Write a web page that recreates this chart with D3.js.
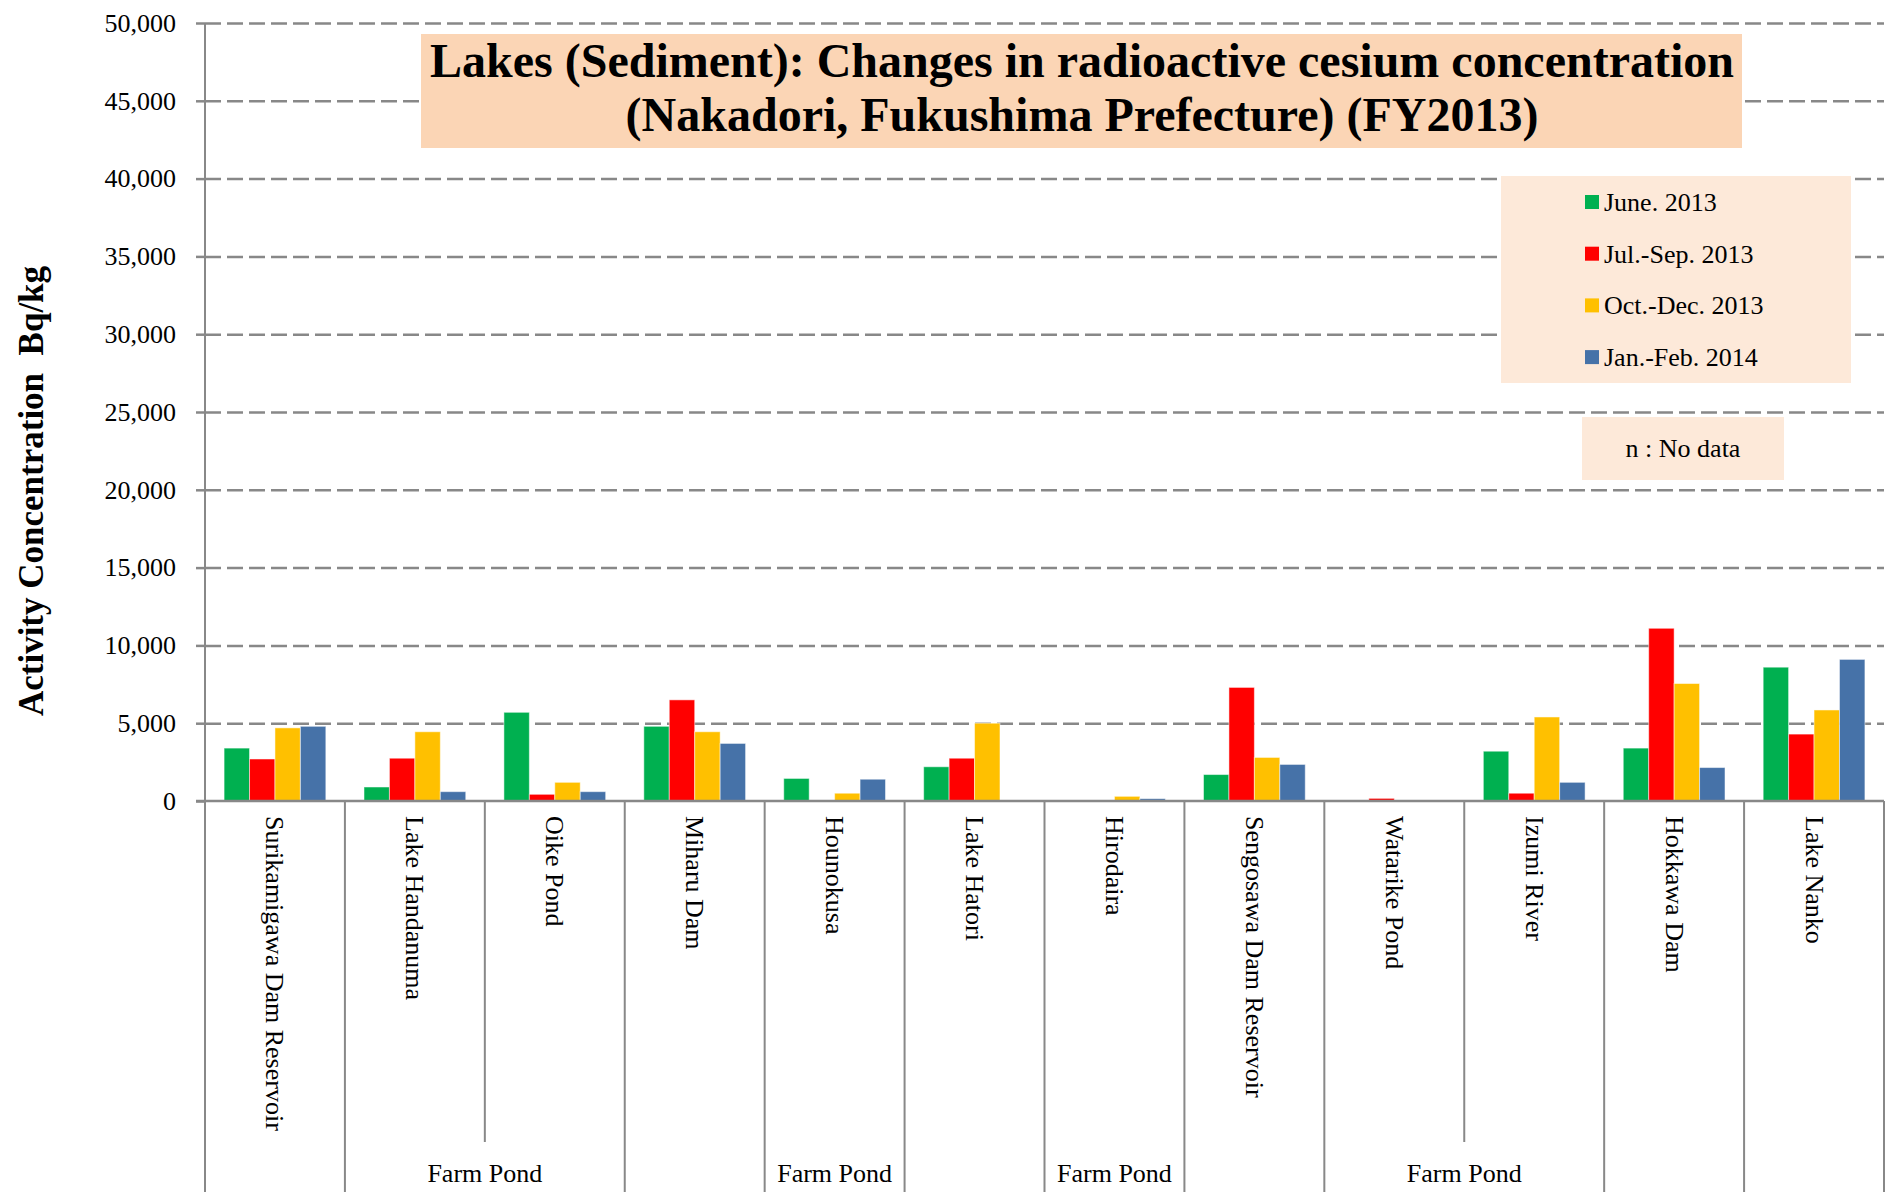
<!DOCTYPE html>
<html>
<head>
<meta charset="utf-8">
<script src="https://cdn.jsdelivr.net/npm/d3@7"></script>
<style>
  body { margin: 0; background: #fff; }
  svg { display: block; font-family: "Liberation Serif", "Times New Roman", serif; }
</style>
</head>
<body>
<div id="chart"></div>
<script>
// data (Bq/kg)
var categories = ["Surikamigawa Dam Reservoir", "Lake Handanuma", "Oike Pond", "Miharu Dam", "Hounokusa",
  "Lake Hatori", "Hirodaira", "Sengosawa Dam Reservoir", "Watarike Pond", "Izumi River", "Hokkawa Dam", "Lake Nanko"];
// second level of the category axis: [label, number of categories]
var groups = [["", 1], ["Farm Pond", 2], ["", 1], ["Farm Pond", 1], ["", 1], ["Farm Pond", 1],
  ["", 1], ["Farm Pond", 2], ["", 1], ["", 1]];
var seriesNames = ["June. 2013", "Jul.-Sep. 2013", "Oct.-Dec. 2013", "Jan.-Feb. 2014"];
var june2013 = [3400, 900, 5700, 4800, 1450, 2200, 30, 1700, 50, 3200, 3400, 8600];
var julSep2013 = [2700, 2750, 430, 6500, 30, 2750, 60, 7300, 170, 500, 11100, 4300];
var octDec2013 = [4700, 4450, 1200, 4450, 500, 5000, 300, 2800, 20, 5400, 7550, 5850];
var janFeb2014 = [4800, 600, 600, 3700, 1400, null, 150, 2350, 50, 1200, 2150, 9100];
var yTicks = [0, 5000, 10000, 15000, 20000, 25000, 30000, 35000, 40000, 45000, 50000];
var colors = ["#00B050", "#FF0000", "#FFC000", "#4672A8"];

var width = 1888, height = 1192;
var left = 205, right = 1884, plotTop = 23, base = 801;

var series = [june2013, julSep2013, octDec2013, janFeb2014];

var svg = d3.select("#chart").append("svg")
  .attr("width", width)
  .attr("height", height);

var x = d3.scaleBand().domain(categories).range([left, right]);
var xs = d3.scaleBand().domain(d3.range(4)).range([0, x.bandwidth()]).paddingOuter(0.75);
var y = d3.scaleLinear().domain([0, 50000]).range([base, plotTop]);

// gridlines
var grid = svg.append("g")
  .attr("transform", `translate(${left},0)`)
  .call(d3.axisLeft(y).tickValues(yTicks.slice(1)).tickSize(-(right - left)).tickFormat(""));
grid.select(".domain").remove();
grid.selectAll("line")
  .attr("stroke", "#888")
  .attr("stroke-width", 2.5)
  .attr("stroke-dasharray", "16,6");

// y axis with labels
var yAxis = svg.append("g")
  .attr("transform", `translate(${left},0)`)
  .call(d3.axisLeft(y).tickValues(yTicks).tickSize(9).tickPadding(20).tickFormat(d3.format(",")));
yAxis.select(".domain").remove();
yAxis.selectAll("line")
  .attr("stroke", "#888")
  .attr("stroke-width", 2.5);
yAxis.selectAll("text")
  .attr("font-size", 26)
  .attr("font-family", "Liberation Serif")
  .attr("fill", "#000");

// bars
categories.forEach(function(c, i) {
  var g = svg.append("g").attr("transform", `translate(${x(c)},0)`);
  series.forEach(function(s, k) {
    if (s[i] == null) return;
    g.append("rect")
      .attr("x", xs(k))
      .attr("y", y(s[i]))
      .attr("width", xs.bandwidth())
      .attr("height", base - y(s[i]))
      .attr("fill", colors[k])
      .attr("stroke", "rgba(255,255,255,0.5)")
      .attr("stroke-width", 1);
  });
});

// axis lines
svg.append("line")
  .attr("x1", left).attr("x2", left)
  .attr("y1", plotTop).attr("y2", height)
  .attr("stroke", "#888").attr("stroke-width", 2);
svg.append("line")
  .attr("x1", left - 9).attr("x2", right)
  .attr("y1", base).attr("y2", base)
  .attr("stroke", "#888").attr("stroke-width", 2.5);

// category separators and group labels
var idx = 0;
groups.forEach(function(gr) {
  var start = idx, end = idx + gr[1];
  for (var j = start + 1; j < end; j++) {
    svg.append("line")
      .attr("x1", x(categories[j])).attr("x2", x(categories[j]))
      .attr("y1", base).attr("y2", 1142)
      .attr("stroke", "#888").attr("stroke-width", 2);
  }
  var xe = end < categories.length ? x(categories[end]) : right;
  svg.append("line")
    .attr("x1", xe).attr("x2", xe)
    .attr("y1", base).attr("y2", height)
    .attr("stroke", "#888").attr("stroke-width", 2);
  if (gr[0]) {
    svg.append("text")
      .attr("x", (x(categories[start]) + xe) / 2)
      .attr("y", 1182)
      .attr("text-anchor", "middle")
      .attr("font-size", 26)
      .text(gr[0]);
  }
  idx = end;
});

// category labels (rotated)
categories.forEach(function(c) {
  svg.append("text")
    .attr("transform", `translate(${x(c) + x.bandwidth() / 2},816) rotate(90)`)
    .attr("dominant-baseline", "central")
    .attr("font-size", 26)
    .text(c);
});

// y axis title
svg.append("text")
  .attr("transform", "translate(31,491) rotate(-90)")
  .attr("text-anchor", "middle")
  .attr("dominant-baseline", "central")
  .attr("font-size", 35)
  .attr("font-weight", "bold")
  .attr("xml:space", "preserve")
  .style("white-space", "pre")
  .text("Activity Concentration  Bq/kg");

// title box
svg.append("rect")
  .attr("x", 421).attr("y", 34).attr("width", 1321).attr("height", 114)
  .attr("fill", "#FBD5B5");
var title = ["Lakes (Sediment): Changes in radioactive cesium concentration", "(Nakadori, Fukushima Prefecture) (FY2013)"];
title.forEach(function(t, i) {
  svg.append("text")
    .attr("x", 1082).attr("y", 77 + i * 54)
    .attr("text-anchor", "middle")
    .attr("font-size", 48)
    .attr("font-weight", "bold")
    .text(t);
});

// legend
svg.append("rect")
  .attr("x", 1501).attr("y", 176).attr("width", 350).attr("height", 207)
  .attr("fill", "#FDE9D9");
seriesNames.forEach(function(n, k) {
  var cy = 202 + k * 51.7;
  svg.append("rect")
    .attr("x", 1585).attr("y", cy - 7).attr("width", 14).attr("height", 14)
    .attr("fill", colors[k]);
  svg.append("text")
    .attr("x", 1604).attr("y", cy + 9)
    .attr("font-size", 26)
    .text(n);
});

svg.append("rect")
  .attr("x", 1582).attr("y", 417).attr("width", 202).attr("height", 63)
  .attr("fill", "#FDE9D9");
svg.append("text")
  .attr("x", 1683).attr("y", 457)
  .attr("text-anchor", "middle")
  .attr("font-size", 26)
  .text("n : No data");
</script>
</body>
</html>
